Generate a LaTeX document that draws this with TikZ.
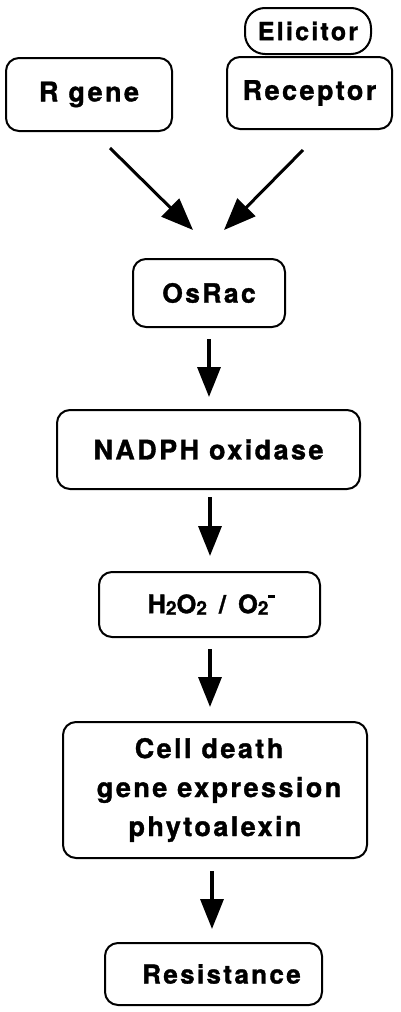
\documentclass[tikz,border=0pt]{standalone}
\usepackage{fontspec}
\setmainfont{TeX Gyre Heros}[LetterSpace=9, BoldFeatures={FakeBold=1.2}]
\usetikzlibrary{arrows.meta}
\newcommand\subtwo{\raisebox{-1.5pt}{\fontsize{19}{19}\selectfont 2}}
\begin{document}
\begin{tikzpicture}[x=1pt,y=-1pt,
  box/.style={draw, line width=2pt, rounded corners=13pt, inner sep=0pt, align=center, font=\bfseries\fontsize{27}{39}\selectfont},
  arr/.style={line width=3.5pt, -{Triangle[length=30pt,width=23pt]}},
  darr/.style={line width=3pt, -{Triangle[length=32pt,width=25pt]}}]
\useasboundingbox (0,0) rectangle (400,1012);
\node[box, minimum width=166pt, minimum height=73pt] (rgene) at (89,94.5) {R gene};
\node[box, minimum width=165pt, minimum height=72pt] (receptor) at (309.5,93) {Receptor};
\node[box, minimum width=126pt, minimum height=46pt, rounded corners=20pt, font=\bfseries\fontsize{25}{27}\selectfont\addfontfeature{LetterSpace=9}] (elicitor) at (308,31) {Elicitor};
\node[box, minimum width=152pt, minimum height=68pt, font=\bfseries\fontsize{26.5}{30}\selectfont] (osrac) at (209,293) {OsRac};
\node[box, minimum width=303pt, minimum height=79pt] (nadph) at (208.5,449.5) {NADPH oxidase};
\node[box, minimum width=221pt, minimum height=65pt, font=\bfseries\fontsize{25.5}{28}\selectfont\addfontfeature{LetterSpace=11}] (h2o2) at (209.5,604.5) {\hspace*{4pt}H\subtwo O\subtwo\hspace*{12pt}/\hspace*{12pt}O\subtwo\raisebox{15pt}{\rule{7pt}{2.8pt}}};
\node[box, minimum width=304pt, minimum height=136pt] (cell) at (215,790) {Cell death\hspace*{12pt}\\\hspace*{8pt}gene expression\\phytoalexin};
\node[box, minimum width=217pt, minimum height=62pt, font=\bfseries\fontsize{26}{30}\selectfont] (resist) at (213.5,974) {\hspace*{16pt}Resistance};
\coordinate (a1s) at (110,148);
\coordinate (a1e) at (193,230);
\coordinate (a2s) at (303,150);
\coordinate (a2e) at (224,230);
\draw[darr] (a1s) -- (a1e);
\draw[darr] (a2s) -- (a2e);
\draw[arr, shorten <=11pt, shorten >=12pt] (osrac.south) -- (osrac.south |- nadph.north);
\draw[arr, shorten <=7pt, shorten >=15pt] ([xshift=1.5pt]nadph.south) -- ([xshift=1.5pt]nadph.south |- h2o2.north);
\draw[arr, shorten <=11pt, shorten >=14pt] ([xshift=0.5pt]h2o2.south) -- ([xshift=0.5pt]h2o2.south |- cell.north);
\draw[arr, shorten <=12pt, shorten >=13pt] ([xshift=-3pt]cell.south) -- ([xshift=-3pt]cell.south |- resist.north);
\end{tikzpicture}
\end{document}
